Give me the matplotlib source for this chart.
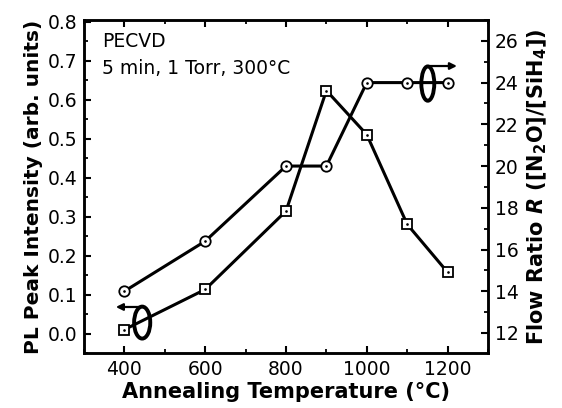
import matplotlib
matplotlib.use('Agg')
import matplotlib.pyplot as plt
from matplotlib.patches import Ellipse
from matplotlib.ticker import MultipleLocator

plt.rcParams['font.family'] = ['DejaVu Sans']
plt.rcParams['mathtext.fontset'] = 'custom'
plt.rcParams['mathtext.rm'] = 'DejaVu Sans:bold'
plt.rcParams['mathtext.bf'] = 'DejaVu Sans:bold'
plt.rcParams['mathtext.it'] = 'DejaVu Sans:italic:bold'

# data
temp = [400, 600, 800, 900, 1000, 1100, 1200]
pl_intensity = [0.01, 0.113, 0.314, 0.623, 0.51, 0.28, 0.157]
flow_ratio = [14.0, 16.4, 20.0, 20.0, 24.0, 24.0, 24.0]

fig = plt.figure(figsize=(5.62, 4.08), dpi=100)
ax = fig.add_axes([84/562, 1 - 353/408, 404/562, 333/408])
ax2 = ax.twinx()

ax.plot(temp, pl_intensity, color='black', lw=2.2, marker='s', ms=6.5,
        mfc='white', mec='black', mew=1.3, zorder=3)
ax.plot(temp, pl_intensity, ls='none', marker='.', ms=1.8, color='black', zorder=4)
ax2.plot(temp, flow_ratio, color='black', lw=2.2, marker='o', ms=7.5,
         mfc='white', mec='black', mew=1.3, zorder=3)
ax2.plot(temp, flow_ratio, ls='none', marker='.', ms=1.8, color='black', zorder=4)

ax.set_xlim(300, 1300)
ax.set_ylim(-0.05, 0.804)
ax2.set_ylim(11.04, 27.0)

ax.xaxis.set_major_locator(MultipleLocator(200))
ax.xaxis.set_minor_locator(MultipleLocator(100))
ax.yaxis.set_major_locator(MultipleLocator(0.1))
ax.yaxis.set_minor_locator(MultipleLocator(0.05))
ax2.yaxis.set_major_locator(MultipleLocator(2))
ax2.yaxis.set_minor_locator(MultipleLocator(1))
ax.set_xticks([400, 600, 800, 1000, 1200])
ax.set_yticks([0.0, 0.1, 0.2, 0.3, 0.4, 0.5, 0.6, 0.7, 0.8])
ax.set_yticklabels(['0.0', '0.1', '0.2', '0.3', '0.4', '0.5', '0.6', '0.7', '0.8'])

ax.tick_params(axis='x', which='both', direction='in', top=True, labelsize=13.5, pad=5)
ax.tick_params(axis='y', which='both', direction='in', right=False, labelsize=13.5, pad=5)
ax.tick_params(which='major', length=5, width=1.5)
ax.tick_params(which='minor', length=3, width=1.3)
ax2.tick_params(axis='y', which='both', direction='in', labelsize=13.5, pad=5)
ax2.tick_params(which='major', length=5, width=1.5)
ax2.tick_params(which='minor', length=3, width=1.3)

for a in (ax, ax2):
    for s in a.spines.values():
        s.set_linewidth(1.8)

ax.set_xlabel('Annealing Temperature (°C)', fontsize=15, fontweight='bold', labelpad=2)
ax.set_ylabel('PL Peak Intensity (arb. units)', fontsize=14.5, fontweight='bold', labelpad=3)
ax2.set_ylabel(r'Flow Ratio $R$ ([N$_2$O]/[SiH$_4$])', fontsize=15, fontweight='bold',
               labelpad=5)

ax.text(0.045, 0.935, 'PECVD', transform=ax.transAxes, fontsize=13.5, va='center')
ax.text(0.045, 0.855, '5 min, 1 Torr, 300°C', transform=ax.transAxes, fontsize=13.5,
        va='center')

# axis markers (ellipse with arrow)
ax.add_patch(Ellipse((444, 0.028), 40, 0.082, fill=False, lw=2.8, color='black', zorder=5))
ax.annotate('', xy=(372, 0.068), xytext=(453, 0.068),
            arrowprops=dict(arrowstyle='-|>', lw=1.6, color='black', mutation_scale=10))
ax.add_patch(Ellipse((1151, 0.641), 32, 0.088, fill=False, lw=2.8, color='black', zorder=5))
ax.annotate('', xy=(1230, 0.686), xytext=(1149, 0.686),
            arrowprops=dict(arrowstyle='-|>', lw=1.6, color='black', mutation_scale=10))

fig.savefig('out.png', dpi=100)
